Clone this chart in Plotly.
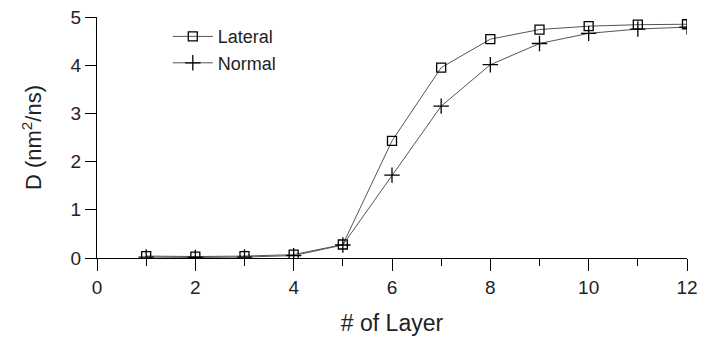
import plotly.graph_objects as go

layers = [1, 2, 3, 4, 5, 6, 7, 8, 9, 10, 11, 12]
lateral = [0.04, 0.03, 0.04, 0.07, 0.28, 2.43, 3.95, 4.54, 4.74, 4.81, 4.84, 4.85]
normal = [0.02, 0.01, 0.02, 0.05, 0.27, 1.72, 3.15, 4.01, 4.45, 4.66, 4.75, 4.79]

x_ticks = [0, 2, 4, 6, 8, 10, 12]
x_minor = [1, 3, 5, 7, 9, 11]
y_ticks = [0, 1, 2, 3, 4, 5]

font = dict(family="Liberation Sans, Arial, sans-serif", size=18, color="#222")

fig = go.Figure()
fig.add_trace(go.Scatter(
    x=layers, y=lateral, name="Lateral", mode="lines+markers",
    line=dict(color="#555", width=1),
    marker=dict(symbol="square-open", size=9, color="black", line=dict(width=1.3, color="black")),
))
fig.add_trace(go.Scatter(
    x=layers, y=normal, name="Normal", mode="lines+markers",
    line=dict(color="#555", width=1),
    marker=dict(symbol="cross-thin", size=11, color="black", line=dict(width=1.3, color="black")),
))

fig.update_layout(
    width=702, height=340,
    margin=dict(l=97, r=15, t=17, b=82),
    paper_bgcolor="white", plot_bgcolor="white",
    font=font,
    showlegend=True,
    legend=dict(x=0.12, y=0.995, xanchor="left", yanchor="top",
                bgcolor="rgba(0,0,0,0)", font=dict(size=18),
                itemwidth=40, tracegroupgap=0),
    xaxis=dict(range=[0, 12], tickvals=x_ticks, ticks="outside", ticklen=12,
               tickwidth=1.3, tickcolor="black", showline=True, linecolor="black",
               linewidth=1.3, showgrid=False, zeroline=False, automargin=False,
               minor=dict(tickvals=x_minor, ticks="outside", ticklen=7,
                          tickwidth=1.3, tickcolor="black", showgrid=False),
               title=dict(text="# of Layer", standoff=17, font=dict(size=23)),
               tickfont=dict(size=19)),
    yaxis=dict(range=[0, 5], tickvals=y_ticks, ticks="outside", ticklen=11,
               tickwidth=1.3, tickcolor="black", showline=True, linecolor="black",
               linewidth=1.3, showgrid=False, zeroline=False, automargin=False,
               title=dict(text="D (nm<sup>2</sup>/ns)", standoff=22, font=dict(size=22)),
               tickfont=dict(size=19)),
)

fig.write_html("out.html", config={"displayModeBar": False},
               post_script="document.body.style.margin='0';")
